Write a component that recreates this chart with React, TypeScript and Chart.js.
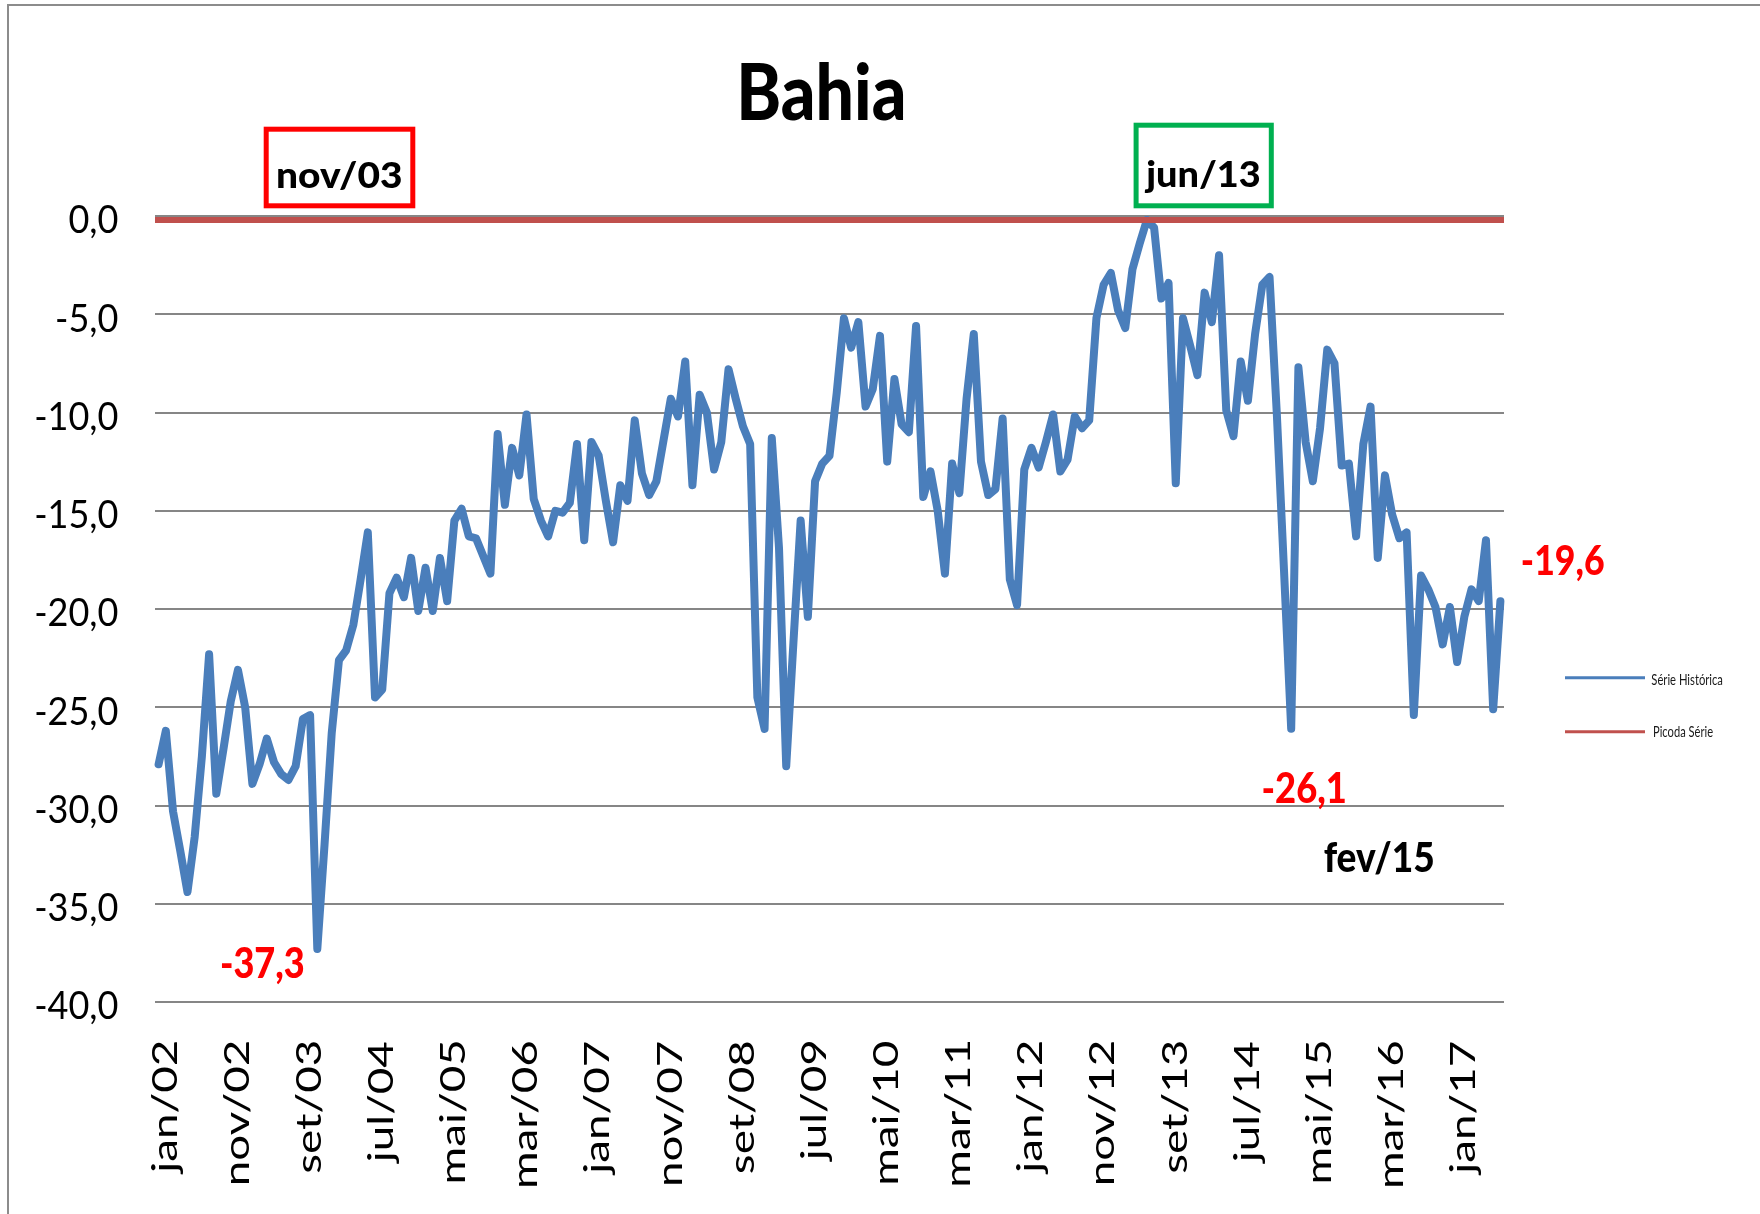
import React, { useEffect, useRef } from "react";
import { Chart, registerables } from "chart.js";

Chart.register(...registerables);

// ---------------- DATA ----------------
const MONTH_NAMES = ["jan", "fev", "mar", "abr", "mai", "jun", "jul", "ago", "set", "out", "nov", "dez"];
const FIRST_YEAR = 2002;

// Série Histórica (jan/02 .. jul/17), one row per year
const serieHistorica: number[] = [
  -27.9, -26.2, -30.3, -32.3, -34.4, -31.6, -27.5, -22.3, -29.4, -27.1, -24.7, -23.1, // 2002
  -25.0, -28.9, -27.9, -26.6, -27.8, -28.4, -28.7, -28.0, -25.6, -25.4, -37.3, -32.0, // 2003
  -26.3, -22.6, -22.1, -20.8, -18.5, -16.1, -24.5, -24.1, -19.2, -18.4, -19.4, -17.4, // 2004
  -20.1, -17.9, -20.1, -17.4, -19.6, -15.5, -14.9, -16.3, -16.4, -17.3, -18.2, -11.1, // 2005
  -14.7, -11.8, -13.2, -10.1, -14.4, -15.5, -16.3, -15.0, -15.1, -14.6, -11.6, -16.5, // 2006
  -11.5, -12.2, -14.5, -16.6, -13.7, -14.5, -10.4, -13.1, -14.2, -13.5, -11.4, -9.3, // 2007
  -10.2, -7.4, -13.7, -9.1, -10.0, -12.9, -11.5, -7.8, -9.3, -10.7, -11.6, -24.5, // 2008
  -26.1, -11.3, -16.9, -28.0, -21.7, -15.5, -20.4, -13.5, -12.6, -12.2, -9.0, -5.2, // 2009
  -6.7, -5.4, -9.7, -8.8, -6.1, -12.5, -8.3, -10.6, -11.0, -5.6, -14.3, -13.0, // 2010
  -15.0, -18.2, -12.6, -14.1, -9.3, -6.0, -12.5, -14.2, -13.9, -10.3, -18.5, -19.8, // 2011
  -12.9, -11.8, -12.8, -11.5, -10.1, -13.0, -12.4, -10.2, -10.8, -10.4, -5.2, -3.5, // 2012
  -2.9, -4.8, -5.7, -2.7, -1.4, -0.2, -0.6, -4.2, -3.4, -13.6, -5.2, -6.6, // 2013
  -8.1, -3.9, -5.4, -2.0, -9.9, -11.2, -7.4, -9.4, -6.0, -3.5, -3.1, -10.0, // 2014
  -18.0, -26.1, -7.7, -11.5, -13.5, -10.8, -6.8, -7.5, -12.7, -12.6, -16.3, -11.6, // 2015
  -9.7, -17.4, -13.2, -15.2, -16.4, -16.1, -25.4, -18.3, -19.0, -19.9, -21.8, -19.9, // 2016
  -22.7, -20.4, -19.0, -19.6, -16.5, -25.1, -19.6, // 2017
];

const categories: string[] = serieHistorica.map(
  (_, i) => `${MONTH_NAMES[i % 12]}/${String((FIRST_YEAR + Math.floor(i / 12)) % 100).padStart(2, "0")}`
);

const picoDaSerie = -0.2;
const xTickEvery = 10;
const yTickValues = [0, -5, -10, -15, -20, -25, -30, -35, -40];
const chartTitle = "Bahia";
const legendLabels = ["Série Histórica", "Picoda Série"];
const minIndex = 22; // nov/03
const peakIndex = 137; // jun/13
const recentMinIndex = 157; // fev/15
const lastIndex = serieHistorica.length - 1;

// ---------------- STYLE ----------------
const BLUE = "#4A7EBB";
const RED_LINE = "#C0504D";
const FONT = "Lato, 'DejaVu Sans', sans-serif";
const BOLD = "900";

const fmt = (v: number) => v.toFixed(1).replace(".", ",");

function drawText(
  ctx: CanvasRenderingContext2D,
  text: string,
  x: number,
  baseline: number,
  sx: number,
  sy: number,
  align: "left" | "center" | "right",
  color: string
) {
  const m = ctx.measureText(text);
  const wInk = m.actualBoundingBoxLeft + m.actualBoundingBoxRight;
  let px = m.actualBoundingBoxLeft;
  if (align === "center") px -= wInk / 2;
  else if (align === "right") px -= wInk;
  ctx.save();
  ctx.translate(x, baseline);
  ctx.scale(sx, sy);
  ctx.fillStyle = color;
  ctx.textAlign = "left";
  ctx.textBaseline = "alphabetic";
  ctx.fillText(text, px, 0);
  ctx.restore();
}

function drawFitted(
  ctx: CanvasRenderingContext2D,
  text: string,
  x: number,
  baseline: number,
  w: number,
  h: number,
  ref: string,
  align: "left" | "center" | "right",
  color: string,
  weight: string
) {
  ctx.font = `${weight} 100px ${FONT}`;
  const m = ctx.measureText(text);
  const wInk = m.actualBoundingBoxLeft + m.actualBoundingBoxRight;
  const hRef = ctx.measureText(ref).actualBoundingBoxAscent;
  drawText(ctx, text, x, baseline, w / wInk, h / hRef, align, color);
}

const decorPlugin = {
  id: "decor",
  beforeDraw(chart: any) {
    const ctx: CanvasRenderingContext2D = chart.ctx;
    ctx.save();
    ctx.fillStyle = "#ffffff";
    ctx.fillRect(0, 0, chart.width, chart.height);
    ctx.strokeStyle = "#8c8c8c";
    ctx.lineWidth = 2;
    ctx.beginPath();
    ctx.moveTo(8, chart.height + 5);
    ctx.lineTo(8, 5);
    ctx.lineTo(chart.width + 5, 5);
    ctx.stroke();
    ctx.restore();
  },
  afterDraw(chart: any) {
    const ctx: CanvasRenderingContext2D = chart.ctx;
    const xs = chart.scales.x;
    const ys = chart.scales.y;
    ctx.save();

    // Y tick labels
    ctx.font = `400 100px ${FONT}`;
    const yRef = ctx.measureText("-40,0");
    const ySx = 81 / (yRef.actualBoundingBoxLeft + yRef.actualBoundingBoxRight);
    const ySy = 28.6 / ctx.measureText("0").actualBoundingBoxAscent;
    yTickValues.forEach((v) => {
      const y = ys.getPixelForValue(v);
      drawText(ctx, fmt(v), 117.3, y + 17.3, ySx, ySy, "right", "#000000");
    });

    // X tick labels (rotated)
    ctx.font = `400 100px ${FONT}`;
    const xRef = ctx.measureText("nov/02");
    const sLen = 141 / (xRef.actualBoundingBoxLeft + xRef.actualBoundingBoxRight);
    const asc0 = ctx.measureText("0").actualBoundingBoxAscent;
    const sThk = 25 / asc0;
    categories.forEach((lab, i) => {
      if (i % xTickEvery !== 0) return;
      const x = xs.getPixelForValue(i) + 5.5;
      const m = ctx.measureText(lab);
      const wInk = m.actualBoundingBoxLeft + m.actualBoundingBoxRight;
      ctx.save();
      ctx.translate(x, 1042);
      ctx.rotate(-Math.PI / 2);
      ctx.scale(sLen, sThk);
      ctx.fillStyle = "#000000";
      ctx.textAlign = "left";
      ctx.textBaseline = "alphabetic";
      ctx.fillText(lab, m.actualBoundingBoxLeft - wInk, asc0 / 2);
      ctx.restore();
    });

    // Title
    drawFitted(ctx, chartTitle, 822.3, 120, 162.5, 56.7, "B", "center", "#000000", BOLD);

    // Boxes
    ctx.lineWidth = 5;
    ctx.strokeStyle = "#FF0000";
    ctx.strokeRect(266.2, 129.2, 146.6, 76.6);
    ctx.strokeStyle = "#00B050";
    ctx.strokeRect(1136.1, 125.2, 135.2, 80.6);
    drawFitted(ctx, categories[minIndex], 339.5, 188, 123, 26.5, "0", "center", "#000000", BOLD);
    drawFitted(ctx, categories[peakIndex], 1202, 187, 114.5, 26, "1", "center", "#000000", BOLD);

    // Value callouts
    drawFitted(ctx, fmt(serieHistorica[minIndex]), 262.5, 978, 81.6, 30, "3", "center", "#FF0000", BOLD);
    drawFitted(ctx, fmt(serieHistorica[recentMinIndex]), 1304.2, 802.7, 81.7, 30.5, "2", "center", "#FF0000", BOLD);
    drawFitted(ctx, fmt(serieHistorica[lastIndex]), 1563.3, 575, 81.3, 30, "1", "center", "#FF0000", BOLD);
    drawFitted(ctx, categories[recentMinIndex], 1378.5, 871.7, 109, 30, "1", "center", "#000000", BOLD);

    // Legend
    ctx.lineCap = "butt";
    ctx.lineWidth = 3;
    ctx.strokeStyle = BLUE;
    ctx.beginPath();
    ctx.moveTo(1565, 677.7);
    ctx.lineTo(1645, 677.7);
    ctx.stroke();
    ctx.strokeStyle = RED_LINE;
    ctx.beginPath();
    ctx.moveTo(1565, 731.7);
    ctx.lineTo(1645, 731.7);
    ctx.stroke();
    drawFitted(ctx, legendLabels[0], 1651.7, 684.5, 70.6, 10.7, "S", "left", "#1a1a1a", "400");
    drawFitted(ctx, legendLabels[1], 1654, 737, 58.7, 10.7, "P", "left", "#1a1a1a", "400");

    ctx.restore();
  },
};

export default function App() {
  const ref = useRef<HTMLCanvasElement>(null);
  useEffect(() => {
    document.body.style.margin = "0";
    document.body.style.overflow = "hidden";
    const canvas = ref.current;
    if (!canvas) return;
    const chart = new Chart(canvas, {
      type: "line",
      data: {
        labels: categories,
        datasets: [
          {
            label: legendLabels[0],
            data: serieHistorica,
            xAxisID: "x",
            borderColor: BLUE,
            borderWidth: 8,
            borderJoinStyle: "round",
            borderCapStyle: "round",
            pointRadius: 0,
            tension: 0,
            fill: false,
            order: 2,
          },
          {
            label: legendLabels[1],
            data: [
              { x: 0, y: picoDaSerie },
              { x: 1, y: picoDaSerie },
            ] as any,
            xAxisID: "xPico",
            borderColor: RED_LINE,
            borderWidth: 6,
            borderCapStyle: "butt",
            pointRadius: 0,
            tension: 0,
            fill: false,
            order: 1,
          },
        ],
      },
      options: {
        responsive: false,
        animation: false,
        devicePixelRatio: 1,
        layout: { padding: { left: 155, right: 256, top: 216, bottom: 212 } },
        plugins: {
          legend: { display: false },
          title: { display: false },
          tooltip: { enabled: false },
        },
        scales: {
          x: {
            type: "category",
            offset: true,
            grid: { display: false, drawTicks: false },
            border: { display: false },
            ticks: { display: false },
          },
          xPico: {
            type: "linear",
            min: 0,
            max: 1,
            display: false,
          },
          y: {
            min: -40,
            max: 0,
            ticks: { display: false, stepSize: 5 },
            grid: { color: "#868686", lineWidth: 2, drawTicks: false },
            border: { display: false },
          },
        },
      },
      plugins: [decorPlugin],
    });
    return () => chart.destroy();
  }, []);
  return (
    <div style={{ width: 1760, height: 1214, background: "#ffffff" }}>
      <canvas ref={ref} width={1760} height={1214} style={{ display: "block" }} />
    </div>
  );
}
